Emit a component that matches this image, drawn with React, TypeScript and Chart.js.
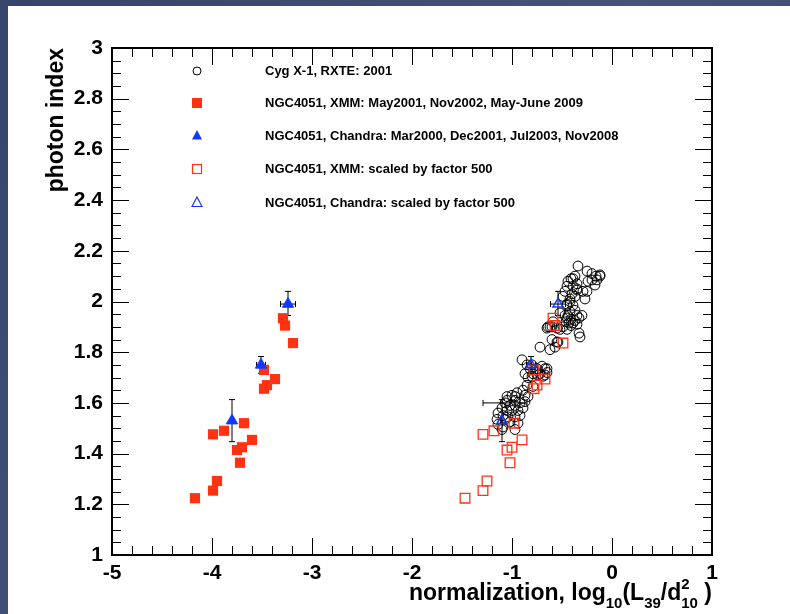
import React, { useEffect, useRef } from 'react';
import { Chart, registerables } from 'chart.js';

Chart.register(...registerables);

// ---- Axis ranges / ticks ----
const X_MIN = -5;
const X_MAX = 1;
const Y_MIN = 1;
const Y_MAX = 3;
const X_MAJOR = 1;
const X_MINOR = 0.2;
const Y_MAJOR = 0.2;
const Y_MINOR = 0.05;

const X_TITLE_PARTS = ['normalization, log', '10', '(L', '39', '/d', '2', '10', ' )'];
const Y_TITLE = 'photon index';

// ---- Series ----
const LEGEND_LABELS = [
  'Cyg X-1, RXTE: 2001',
  'NGC4051, XMM: May2001, Nov2002, May-June 2009',
  'NGC4051, Chandra: Mar2000, Dec2001, Jul2003, Nov2008',
  'NGC4051, XMM: scaled by factor 500',
  'NGC4051, Chandra: scaled by factor 500',
];

const cygX = [
  -0.34, -0.25, -0.20, -0.16, -0.12, -0.37, -0.41, -0.44, -0.45, -0.35, -0.39, -0.24, -0.17, -0.47, -0.40, -0.35, -0.25, -0.49, -0.42, -0.37, -0.27, -0.45, -0.39, -0.37, -0.42, -0.35,
  -0.45, -0.41, -0.37, -0.43, -0.39, -0.35, -0.41, -0.46, -0.33,
  -0.60, -0.55, -0.52, -0.45, -0.64, -0.32, -0.60, -0.55, -0.72, -0.62, -0.57,
  -0.90, -0.85, -0.82, -0.67, -0.65, -0.72, -0.69, -0.87, -0.84, -0.85, -0.89, -0.95, -1.00, -1.05, -0.97, -0.87, -0.84, -0.80, -0.79,
  -0.97, -1.05, -1.07, -1.02, -0.97, -0.92, -0.87, -1.10, -1.05, -1.00, -0.94, -0.89, -1.14, -1.09, -1.04, -0.97, -0.92, -1.15, -1.07, -1.02, -0.94, -1.09, -1.14, -1.10, -0.97,
  -0.47, -0.49, -0.54, -0.80, -0.75, -0.70, -0.65, -0.79, -0.74, -0.67,
  -0.12, -0.15, -0.20, -0.39, -0.35, -0.29, -0.42, -0.45, -0.30, -0.33, -0.52, -0.59, -0.62, -0.65, -0.44,
];
const cygY = [
  2.14, 2.12, 2.11, 2.10, 2.105, 2.10, 2.09, 2.08, 2.06, 2.07, 2.06, 2.08, 2.065, 2.04, 2.03, 2.045, 2.04, 2.02, 2.01, 2.02, 2.01, 1.99, 1.985, 1.965, 1.96, 1.945,
  1.935, 1.93, 1.925, 1.915, 1.915, 1.91, 1.905, 1.92, 1.935,
  1.90, 1.895, 1.89, 1.89, 1.90, 1.86, 1.85, 1.84, 1.82, 1.81, 1.82,
  1.77, 1.75, 1.735, 1.735, 1.72, 1.715, 1.705, 1.715, 1.70, 1.67, 1.65, 1.64, 1.63, 1.625, 1.625, 1.63, 1.625, 1.705, 1.665,
  1.61, 1.61, 1.60, 1.59, 1.59, 1.60, 1.605, 1.58, 1.57, 1.57, 1.57, 1.58, 1.56, 1.55, 1.545, 1.545, 1.55, 1.535, 1.535, 1.525, 1.52, 1.505, 1.515, 1.495, 1.495,
  1.945, 1.90, 1.84, 1.75, 1.735, 1.745, 1.735, 1.715, 1.71, 1.71,
  2.10, 2.085, 2.085, 2.09, 2.05, 2.04, 2.00, 1.985, 1.945, 1.875, 1.955, 1.92, 1.90, 1.895, 1.945,
];
// Cyg X-1 point drawn with a horizontal error bar
const cygErrX = [-1.07];
const cygErrY = [1.60];
const cygErrXe = [0.22];

const xmmX = [-4.17, -3.99, -3.95, -3.99, -3.88, -3.68, -3.75, -3.70, -3.60, -3.72, -3.48, -3.45, -3.37, -3.48, -3.29, -3.27, -3.19];
const xmmY = [1.224, 1.254, 1.292, 1.476, 1.49, 1.52, 1.414, 1.425, 1.454, 1.364, 1.656, 1.67, 1.694, 1.73, 1.934, 1.905, 1.836];

const chandraX = [-3.80, -3.51, -3.24];
const chandraY = [1.53, 1.75, 1.99];
const chandraXErr = [0.0, 0.045, 0.075];
const chandraYErrLo = [0.083, 0.033, 0.045];
const chandraYErrHi = [0.083, 0.033, 0.05];

const xmmScaledX = [-1.47, -1.29, -1.25, -1.29, -1.18, -0.98, -1.05, -1.00, -0.90, -1.02, -0.78, -0.75, -0.67, -0.78, -0.59, -0.57, -0.49];
const xmmScaledY = [1.224, 1.254, 1.292, 1.476, 1.49, 1.52, 1.414, 1.425, 1.454, 1.364, 1.656, 1.67, 1.694, 1.73, 1.934, 1.905, 1.836];

const chandraScaledX = [-1.10, -0.81, -0.54];
const chandraScaledY = [1.53, 1.75, 1.99];

const RED = '#ff3214';
const BLUE = '#1238ff';
const FONT = '"Liberation Sans", Arial, Helvetica, sans-serif';

const pts = (xs: number[], ys: number[]) => xs.map((x, i) => ({ x, y: ys[i] }));

function drawMarker(ctx: CanvasRenderingContext2D, kind: string, x: number, y: number) {
  ctx.save();
  ctx.lineWidth = 1.2;
  if (kind === 'circle') {
    ctx.strokeStyle = '#000';
    ctx.lineWidth = 1;
    ctx.beginPath();
    ctx.arc(x, y, 4, 0, Math.PI * 2);
    ctx.stroke();
  } else if (kind === 'fsquare') {
    ctx.fillStyle = RED;
    ctx.fillRect(x - 5, y - 5, 10, 10);
  } else if (kind === 'osquare') {
    ctx.strokeStyle = RED;
    ctx.strokeRect(x - 4.5, y - 4.5, 9, 9);
  } else if (kind === 'ftri' || kind === 'otri') {
    ctx.beginPath();
    ctx.moveTo(x, y - 6);
    ctx.lineTo(x + 5, y + 3.5);
    ctx.lineTo(x - 5, y + 3.5);
    ctx.closePath();
    if (kind === 'ftri') {
      ctx.fillStyle = BLUE;
      ctx.fill();
    } else {
      ctx.strokeStyle = BLUE;
      ctx.stroke();
    }
  }
  ctx.restore();
}

const rootPlugin = {
  id: 'rootStyle',
  beforeDraw(chart: any) {
    const { ctx, width, height } = chart;
    ctx.save();
    const g = ctx.createLinearGradient(0, 0, width, height);
    g.addColorStop(0, '#36436a');
    g.addColorStop(0.5, '#45527a');
    g.addColorStop(1, '#3a476e');
    ctx.fillStyle = g;
    ctx.fillRect(0, 0, width, height);
    ctx.fillStyle = '#ffffff';
    ctx.fillRect(8, 6, width - 8, height - 6);
    ctx.restore();
  },
  beforeDatasetsDraw(chart: any) {
    const { ctx } = chart;
    const xs = chart.scales.x;
    const ys = chart.scales.y;
    ctx.save();
    ctx.strokeStyle = '#000';
    ctx.lineWidth = 1;
    const cap = 3;
    const bar = (x: number, y: number, xe: number, ylo: number, yhi: number) => {
      const px = xs.getPixelForValue(x);
      const py = ys.getPixelForValue(y);
      ctx.beginPath();
      if (xe > 0) {
        const l = xs.getPixelForValue(x - xe);
        const r = xs.getPixelForValue(x + xe);
        ctx.moveTo(l, py); ctx.lineTo(r, py);
        ctx.moveTo(l, py - cap); ctx.lineTo(l, py + cap);
        ctx.moveTo(r, py - cap); ctx.lineTo(r, py + cap);
      }
      if (ylo > 0 || yhi > 0) {
        const b = ys.getPixelForValue(y - ylo);
        const t = ys.getPixelForValue(y + yhi);
        ctx.moveTo(px, b); ctx.lineTo(px, t);
        ctx.moveTo(px - cap, b); ctx.lineTo(px + cap, b);
        ctx.moveTo(px - cap, t); ctx.lineTo(px + cap, t);
      }
      ctx.stroke();
    };
    chandraX.forEach((x, i) => bar(x, chandraY[i], chandraXErr[i], chandraYErrLo[i], chandraYErrHi[i]));
    chandraScaledX.forEach((x, i) => bar(x, chandraScaledY[i], chandraXErr[i], chandraYErrLo[i], chandraYErrHi[i]));
    cygErrX.forEach((x, i) => bar(x, cygErrY[i], cygErrXe[i], 0, 0));
    ctx.restore();
  },
  afterDraw(chart: any) {
    const { ctx, chartArea } = chart;
    const xs = chart.scales.x;
    const ys = chart.scales.y;
    const { left, right, top, bottom } = chartArea;
    ctx.save();
    // ticks (inward, all four sides)
    ctx.strokeStyle = '#000';
    ctx.lineWidth = 1;
    ctx.beginPath();
    const nx = Math.round((X_MAX - X_MIN) / X_MINOR);
    for (let i = 0; i <= nx; i++) {
      const v = X_MIN + i * X_MINOR;
      const major = Math.abs(v / X_MAJOR - Math.round(v / X_MAJOR)) < 1e-6;
      const len = major ? 17 : 9;
      const p = Math.round(xs.getPixelForValue(v)) + 0.5;
      ctx.moveTo(p, bottom); ctx.lineTo(p, bottom - len);
      ctx.moveTo(p, top); ctx.lineTo(p, top + len);
    }
    const ny = Math.round((Y_MAX - Y_MIN) / Y_MINOR);
    for (let i = 0; i <= ny; i++) {
      const v = Y_MIN + i * Y_MINOR;
      const major = Math.abs(v / Y_MAJOR - Math.round(v / Y_MAJOR)) < 1e-6;
      const len = major ? 17 : 9;
      const p = Math.round(ys.getPixelForValue(v)) + 0.5;
      ctx.moveTo(left, p); ctx.lineTo(left + len, p);
      ctx.moveTo(right, p); ctx.lineTo(right - len, p);
    }
    ctx.stroke();
    // frame
    ctx.lineWidth = 2;
    ctx.strokeRect(left, top, right - left, bottom - top);

    // legend
    const kinds = ['circle', 'fsquare', 'ftri', 'osquare', 'otri'];
    const rowsY = [71, 103, 136, 169, 203];
    ctx.fillStyle = '#000';
    ctx.font = `bold 13px ${FONT}`;
    ctx.textBaseline = 'middle';
    ctx.textAlign = 'left';
    LEGEND_LABELS.forEach((lab, i) => {
      drawMarker(ctx, kinds[i], 197, rowsY[i]);
      ctx.fillStyle = '#000';
      ctx.fillText(lab, 265, rowsY[i]);
    });

    // y title
    ctx.save();
    ctx.font = `bold 23px ${FONT}`;
    ctx.translate(57, top);
    ctx.rotate(-Math.PI / 2);
    ctx.textAlign = 'right';
    ctx.textBaseline = 'middle';
    ctx.fillText(Y_TITLE, 0, 0);
    ctx.restore();

    // x title with sub/superscripts
    const mainF = `bold 23px ${FONT}`;
    const subF = `bold 15px ${FONT}`;
    const segs = [
      { t: X_TITLE_PARTS[0], f: mainF, dy: 0 },
      { t: X_TITLE_PARTS[1], f: subF, dy: 8 },
      { t: X_TITLE_PARTS[2], f: mainF, dy: 0 },
      { t: X_TITLE_PARTS[3], f: subF, dy: 8 },
      { t: X_TITLE_PARTS[4], f: mainF, dy: 0 },
      { t: X_TITLE_PARTS[5], f: subF, dy: -11, stack: true },
      { t: X_TITLE_PARTS[6], f: subF, dy: 8 },
      { t: X_TITLE_PARTS[7], f: mainF, dy: 0 },
    ];
    const widths = segs.map((s) => { ctx.font = s.f; return ctx.measureText(s.t).width; });
    let total = 0;
    segs.forEach((s: any, i) => { if (!s.stack) total += widths[i]; });
    let cx = right - total;
    const base = 600;
    ctx.textAlign = 'left';
    ctx.textBaseline = 'alphabetic';
    segs.forEach((s: any, i) => {
      ctx.font = s.f;
      ctx.fillText(s.t, cx, base + s.dy);
      if (!s.stack) cx += widths[i];
    });
    ctx.restore();
  },
};

export default function App() {
  const ref = useRef<HTMLCanvasElement | null>(null);
  useEffect(() => {
    if (!ref.current) return;
    const chart = new Chart(ref.current, {
      type: 'scatter',
      data: {
        datasets: [
          {
            label: LEGEND_LABELS[2], data: pts(chandraX, chandraY), order: 0,
            pointStyle: 'triangle', pointRadius: 6.5, backgroundColor: BLUE, borderColor: BLUE, borderWidth: 1,
          },
          {
            label: LEGEND_LABELS[1], data: pts(xmmX, xmmY), order: 1,
            pointStyle: 'rect', pointRadius: 7.2, backgroundColor: RED, borderColor: RED, borderWidth: 0,
          },
          {
            label: LEGEND_LABELS[4], data: pts(chandraScaledX, chandraScaledY), order: 2,
            pointStyle: 'triangle', pointRadius: 5.8, backgroundColor: 'rgba(0,0,0,0)', borderColor: BLUE, borderWidth: 1.5,
          },
          {
            label: LEGEND_LABELS[3], data: pts(xmmScaledX, xmmScaledY), order: 3,
            pointStyle: 'rect', pointRadius: 6.8, backgroundColor: 'rgba(0,0,0,0)', borderColor: RED, borderWidth: 1.3,
          },
          {
            label: LEGEND_LABELS[0], data: pts(cygX, cygY), order: 4,
            pointStyle: 'circle', pointRadius: 4.9, backgroundColor: 'rgba(0,0,0,0)', borderColor: '#000', borderWidth: 1,
          },
        ],
      },
      options: {
        responsive: false,
        animation: false,
        devicePixelRatio: 1,
        layout: { padding: { top: 48, right: 78, left: 0, bottom: 0 } },
        plugins: { legend: { display: false }, tooltip: { enabled: false }, title: { display: false } },
        scales: {
          x: {
            type: 'linear', min: X_MIN, max: X_MAX,
            grid: { display: false, drawTicks: false },
            border: { display: false },
            ticks: {
              stepSize: X_MAJOR, padding: 6, color: '#000',
              font: { family: FONT, size: 21, weight: 'bold' },
              callback: (v: any) => String(Math.round(Number(v) * 100) / 100),
            },
            afterFit: (s: any) => { s.height = 59; },
          },
          y: {
            type: 'linear', min: Y_MIN, max: Y_MAX,
            grid: { display: false, drawTicks: false },
            border: { display: false },
            ticks: {
              stepSize: Y_MAJOR, padding: 9, color: '#000',
              font: { family: FONT, size: 21, weight: 'bold' },
              callback: (v: any) => String(Math.round(Number(v) * 100) / 100),
            },
            afterFit: (s: any) => { s.width = 112; },
          },
        },
      },
      plugins: [rootPlugin],
    } as any);
    return () => chart.destroy();
  }, []);
  return (
    <div style={{ position: 'fixed', left: 0, top: 0, width: 790, height: 614 }}>
      <canvas ref={ref} width={790} height={614} style={{ display: 'block' }} />
    </div>
  );
}
